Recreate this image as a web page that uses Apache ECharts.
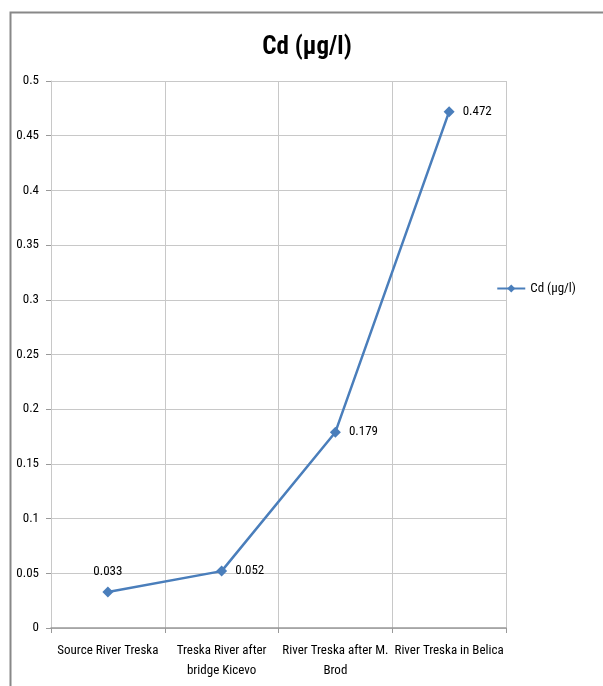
<!DOCTYPE html>
<html>
<head>
<meta charset="utf-8">
<script src="https://cdn.jsdelivr.net/npm/echarts@6/dist/echarts.min.js"></script>
<style>
html,body{margin:0;padding:0;background:#fff;}
#c{width:603px;height:686px;}
</style>
</head>
<body>
<div id="c"></div>
<script>
const categories = ["Source River Treska", "Treska River after\nbridge Kicevo", "River Treska after M.\nBrod", "River Treska in Belica"];
const values = [0.033, 0.052, 0.179, 0.472];
const seriesName = "Cd (µg/l)";
const titleText = "Cd (µg/l)";

const FONT = "'Liberation Sans Narrow', 'Roboto Condensed', 'DejaVu Sans Condensed', sans-serif";
const chart = echarts.init(document.getElementById('c'));
chart.setOption({
  backgroundColor: '#fff',
  animation: false,
  graphic: [{
    type: 'rect', left: 8, top: 10, shape: {x: 0, y: 0, width: 700, height: 700},
    style: {fill: 'none', stroke: '#888', lineWidth: 2}
  }],
  title: {
    text: titleText, left: 302, top: 30, textAlign: 'center',
    textStyle: {fontFamily: FONT, fontWeight: 'bold', fontSize: 25, color: '#000'}
  },
  legend: {
    show: true, right: 22, top: 277, orient: 'vertical',
    itemWidth: 28, itemHeight: 10, itemGap: 4,
    textStyle: {fontFamily: FONT, fontSize: 13, color: '#000'},
    data: [seriesName]
  },
  grid: {left: 51, right: 97, top: 81, bottom: 58, containLabel: false},
  xAxis: {
    type: 'category', data: categories, boundaryGap: true,
    axisLine: {lineStyle: {color: '#999', width: 1.5}},
    axisTick: {show: true, length: 5, lineStyle: {color: '#999'}},
    axisLabel: {fontFamily: FONT, fontSize: 13, color: '#000', margin: 13, interval: 0, lineHeight: 20},
    splitLine: {show: true, lineStyle: {color: '#c8c8c8', width: 1}}
  },
  yAxis: {
    type: 'value', min: 0, max: 0.5, interval: 0.05,
    axisLine: {show: true, lineStyle: {color: '#c8c8c8', width: 1}},
    axisTick: {show: true, length: 5, lineStyle: {color: '#999'}},
    axisLabel: {fontFamily: FONT, fontSize: 13, color: '#000', margin: 12,
      formatter: v => String(parseFloat(v.toFixed(2)))},
    splitLine: {show: true, lineStyle: {color: '#c8c8c8', width: 1}}
  },
  series: [{
    name: seriesName, type: 'line', data: values.map((v, i) => ({
      value: v,
      label: {position: i === 0 ? 'top' : 'right', distance: i === 0 ? 8 : 8}
    })),
    symbol: 'diamond', symbolSize: 11,
    lineStyle: {color: '#4a7ebb', width: 2.5},
    itemStyle: {color: '#4a7ebb'},
    label: {show: true, fontFamily: FONT, fontSize: 13, color: '#000'}
  }]
});
</script>
</body>
</html>
